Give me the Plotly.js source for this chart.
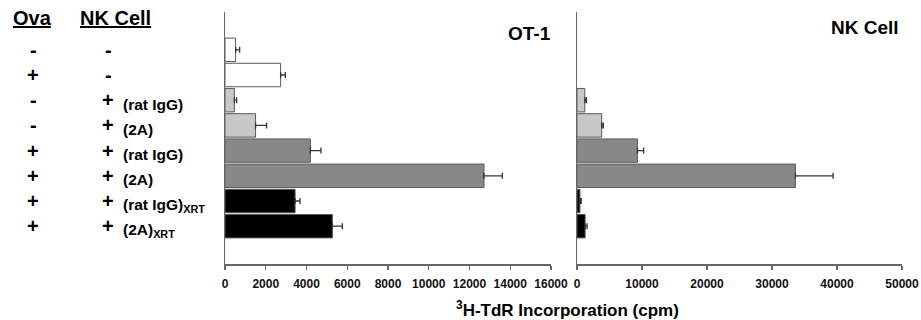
<!DOCTYPE html>
<html>
<head>
<meta charset="utf-8">
<script src="https://cdn.plot.ly/plotly-3.0.1.min.js"></script>
<style>html,body{margin:0;padding:0;background:#fff;}#chart{width:921px;height:320px;}</style>
</head>
<body>
<div id="chart"></div>
<script>
// ---- data ----
var conditions = ["Ova-/NK-", "Ova+/NK-", "Ova-/NK+ rat IgG", "Ova-/NK+ 2A",
                  "Ova+/NK+ rat IgG", "Ova+/NK+ 2A", "Ova+/NK+ rat IgG XRT", "Ova+/NK+ 2A XRT"];
var ovaSigns = ["-", "+", "-", "-", "+", "+", "+", "+"];
var nkSigns  = ["-", "-", "+", "+", "+", "+", "+", "+"];
var nkLabels = ["", "", "(rat IgG)", "(2A)", "(rat IgG)", "(2A)", "(rat IgG)<sub>XRT</sub>", "(2A)<sub>XRT</sub>"];
var ot1Values = [520, 2730, 460, 1500, 4190, 12710, 3440, 5270];
var ot1Errors = [200, 230, 110, 540, 520, 900, 240, 490];
var nkValues  = [null, null, 1200, 3800, 9300, 33600, 450, 1250];
var nkErrors  = [0, 0, 250, 250, 950, 5800, 200, 300];
var barColors = ["#ffffff", "#ffffff", "#c8c8c8", "#c8c8c8", "#888888", "#888888", "#000000", "#000000"];
var panelTitles = ["OT-1", "NK Cell"];
var headers = ["Ova", "NK Cell"];
var xTitle = "<sup>3</sup>H-TdR Incorporation (cpm)";

var FONT = "Liberation Sans, Arial, Helvetica, sans-serif";

function barTrace(vals, errs, xa, ya) {
  return {
    type: "bar", orientation: "h",
    x: vals, y: conditions, xaxis: xa, yaxis: ya,
    marker: {color: barColors, line: {color: "#5a5a5a", width: 1}},
    error_x: {type: "data", symmetric: false, array: errs, arrayminus: errs.map(function () { return 0; }),
              visible: true, color: "#333333", thickness: 1.3, width: 3},
    showlegend: false, hoverinfo: "x+y"
  };
}

var data = [barTrace(ot1Values, ot1Errors, "x", "y"), barTrace(nkValues, nkErrors, "x2", "y2")];

var xCommon = {
  showline: true, linecolor: "#666666", linewidth: 1.5,
  ticks: "outside", ticklen: 4, tickcolor: "#666666", tickwidth: 1.2,
  showgrid: false, zeroline: false, tickformat: "d", exponentformat: "none",
  tickfont: {family: FONT, size: 12, color: "#111111", weight: 700},
  ticklabelstandoff: 4, fixedrange: true
};
var yCommon = {
  type: "category", categoryorder: "array", categoryarray: conditions,
  range: [8.5, -1.5], showline: true, linecolor: "#666666", linewidth: 1.5,
  showticklabels: false, ticks: "", showgrid: false, zeroline: false, fixedrange: true
};

var annotations = [];
// column headers
var headerX = [32 / 921, 115 / 921];
headers.forEach(function (h, i) {
  annotations.push({xref: "paper", yref: "paper", x: headerX[i], y: 0.975, xanchor: "center", yanchor: "middle",
    text: "<u>" + h + "</u>", showarrow: false, font: {family: FONT, size: 20, weight: 700, color: "#000"}});
});
// row signs and labels
conditions.forEach(function (c, i) {
  annotations.push({xref: "paper", yref: "y", x: 33 / 921, y: c, yshift: 0, xanchor: "center", yanchor: "middle",
    text: ovaSigns[i], showarrow: false, font: {family: FONT, size: 20, weight: 700, color: "#000"}});
  annotations.push({xref: "paper", yref: "y", x: 108 / 921, y: c, yshift: 0, xanchor: "center", yanchor: "middle",
    text: nkSigns[i], showarrow: false, font: {family: FONT, size: 20, weight: 700, color: "#000"}});
  if (nkLabels[i]) {
    annotations.push({xref: "paper", yref: "y", x: 121 / 921, y: c, yshift: -4, xanchor: "left", yanchor: "middle",
      text: nkLabels[i], showarrow: false, font: {family: FONT, size: 15.5, weight: 700, color: "#000"}});
  }
});
// panel titles
annotations.push({xref: "paper", yref: "paper", x: 553 / 921, y: (264 - 33) / 252, xanchor: "right", yanchor: "middle",
  text: panelTitles[0], showarrow: false, font: {family: FONT, size: 19, weight: 700, color: "#000"}});
annotations.push({xref: "paper", yref: "paper", x: 901 / 921, y: (264 - 27) / 252, xanchor: "right", yanchor: "middle",
  text: panelTitles[1], showarrow: false, font: {family: FONT, size: 19, weight: 700, color: "#000"}});
// x title
annotations.push({xref: "paper", yref: "paper", x: 567 / 921, y: (264 - 309) / 252, xanchor: "center", yanchor: "middle",
  text: xTitle, showarrow: false, font: {family: FONT, size: 17, weight: 700, color: "#000"}});

var layout = {
  width: 921, height: 320,
  margin: {l: 0, r: 0, t: 12, b: 56},
  paper_bgcolor: "#ffffff", plot_bgcolor: "#ffffff",
  bargap: 0.07,
  xaxis: Object.assign({}, xCommon, {domain: [225 / 921, 551 / 921], range: [0, 16000], dtick: 2000, anchor: "y"}),
  xaxis2: Object.assign({}, xCommon, {domain: [577 / 921, 902 / 921], range: [0, 50000], dtick: 10000, anchor: "y2"}),
  yaxis: Object.assign({}, yCommon, {anchor: "x", domain: [0, 1]}),
  yaxis2: Object.assign({}, yCommon, {anchor: "x2", domain: [0, 1]}),
  annotations: annotations,
  font: {family: FONT}
};

Plotly.newPlot("chart", data, layout, {displayModeBar: false, staticPlot: true});
</script>
</body>
</html>
